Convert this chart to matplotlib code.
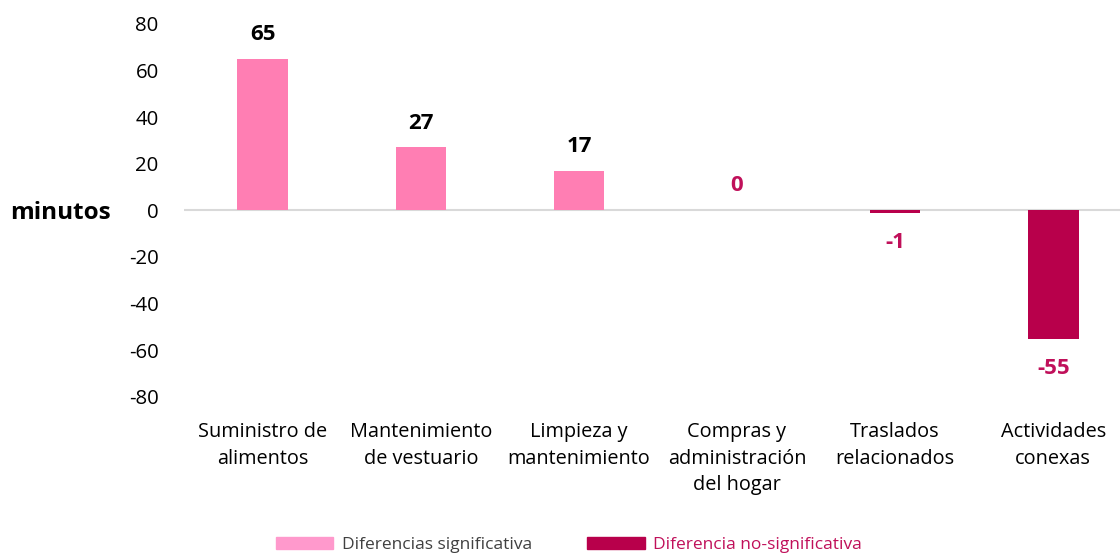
import matplotlib.pyplot as plt
import matplotlib.patches as mpatches
import numpy as np

plt.rcParams['font.family'] = ['Open Sans', 'DejaVu Sans']

categorias = ['Suministro de\nalimentos', 'Mantenimiento\nde vestuario', 'Limpieza y\nmantenimiento',
              'Compras y\nadministración\ndel hogar', 'Traslados\nrelacionados', 'Actividades\nconexas']
valores = [65, 27, 17, 0, -1, -55]
significativa = [True, True, True, False, False, False]
ticks_y = [80, 60, 40, 20, 0, -20, -40, -60, -80]

rosa = '#FF7EB3'
granate = '#B8004B'

fig = plt.figure(figsize=(11.2, 5.55), dpi=100)
# el eje se sale un poco por la derecha, como en el original
ax = fig.add_axes([0.164, 0.285, 0.847, 0.672])

x = np.arange(len(categorias))
colores = [rosa if s else granate for s in significativa]
ax.bar(x, valores, width=0.32, color=colores, zorder=2)

for xi, v, s in zip(x, valores, significativa):
    col = 'black' if s else '#C0105A'
    if v >= 0:
        ax.annotate(str(v), (xi, v), xytext=(0, 10), textcoords='offset points',
                    ha='center', va='bottom', fontsize=16, fontweight='bold', color=col)
    else:
        ax.annotate(str(v), (xi, v), xytext=(0, -14), textcoords='offset points',
                    ha='center', va='top', fontsize=16, fontweight='bold', color=col)

ax.axhline(0, color='#D9D9D9', lw=1.5, zorder=1)
ax.set_xlim(-0.5, len(categorias) - 0.5)
ax.set_ylim(-80, 80)
ax.set_yticks(ticks_y)
ax.set_yticklabels([str(t) for t in ticks_y], fontsize=14.7)
ax.set_xticks(x)
ax.set_xticklabels(categorias, fontsize=14.3, linespacing=1.45, va='top')
ax.tick_params(axis='both', length=0)
ax.tick_params(axis='y', pad=18)
ax.tick_params(axis='x', pad=18)
for sp in ax.spines.values():
    sp.set_visible(False)

fig.text(0.009, 0.616, 'minutos', fontsize=17.5, fontweight='bold', va='center', ha='left')

handles = [mpatches.Patch(color='#FF99CC', label='Diferencias significativa'),
           mpatches.Patch(color=granate, label='Diferencia no-significativa')]
leg = fig.legend(handles=handles, loc='center', bbox_to_anchor=(0.508, 0.018), ncol=2,
                 frameon=False, fontsize=12.5, handlelength=3.3, handleheight=0.7,
                 columnspacing=3.2, handletextpad=0.5)
leg.get_texts()[0].set_color('#404040')
leg.get_texts()[1].set_color('#C0105A')

fig.savefig('out.png', dpi=100)
